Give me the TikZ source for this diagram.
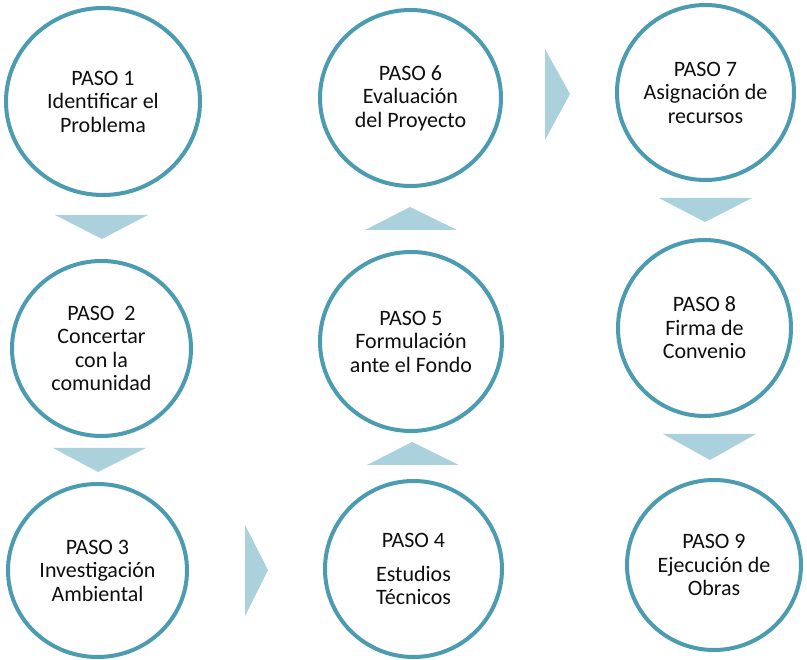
\documentclass[tikz,border=0pt]{standalone}
\usepackage{fontspec}
\setmainfont{Carlito}
\usetikzlibrary{shapes.geometric}
\definecolor{ring}{RGB}{75,155,177}
\definecolor{tri}{RGB}{171,209,221}
\definecolor{txt}{RGB}{15,15,15}
\tikzset{
  paso/.style={ellipse, draw=ring, line width=4pt, fill=white, inner sep=0pt,
    align=center, text=txt, font=\fontsize{22}{23.5}\selectfont},
  flecha/.style={fill=tri, draw=none}
}
\begin{document}
\begin{tikzpicture}[x=1pt,y=-1pt]
\useasboundingbox (0,0) rectangle (807,660);
% circles
\node[paso, minimum width=194pt, minimum height=187pt] (p1) at (103,101.5) {PASO 1\\Identificar el\\Problema};
\node[paso, minimum width=179pt, minimum height=175pt] (p2) at (101.5,348.5) {PASO \ 2\\Concertar\\con la\\comunidad};
\node[paso, minimum width=179pt, minimum height=173pt] (p3) at (97.5,570.5) {PASO 3\\Investigación\\Ambiental};
\node[paso, minimum width=177pt, minimum height=176pt] (p4) at (413.5,569) {PASO 4\\[10pt]Estudios\\Técnicos};
\node[paso, minimum width=182pt, minimum height=179pt] (p5) at (411,341.5) {PASO 5\\Formulación\\ante el Fondo};
\node[paso, minimum width=181pt, minimum height=176pt] (p6) at (410.5,98) {PASO 6\\Evaluación\\del Proyecto};
\node[paso, minimum width=177pt, minimum height=175pt] (p7) at (705.5,92.5) {PASO 7\\Asignación de\\recursos};
\node[paso, minimum width=173pt, minimum height=176pt] (p8) at (704.5,328) {PASO 8\\Firma de\\Convenio};
\node[paso, minimum width=174pt, minimum height=170pt] (p9) at (714,565) {PASO 9\\Ejecución de\\Obras};
% arrow triangles
\fill[flecha] (55,215) -- (148,215) -- (102,239) -- cycle;
\fill[flecha] (53,448) -- (146,448) -- (98,472) -- cycle;
\fill[flecha] (245,525) -- (245,616) -- (268,570) -- cycle;
\fill[flecha] (367,465) -- (459,465) -- (412,442) -- cycle;
\fill[flecha] (365,230) -- (457,230) -- (410,207) -- cycle;
\fill[flecha] (545,49) -- (545,140) -- (570,94) -- cycle;
\fill[flecha] (659,198) -- (752,198) -- (705,222) -- cycle;
\fill[flecha] (663,434) -- (756,434) -- (710,460) -- cycle;
\end{tikzpicture}
\end{document}
